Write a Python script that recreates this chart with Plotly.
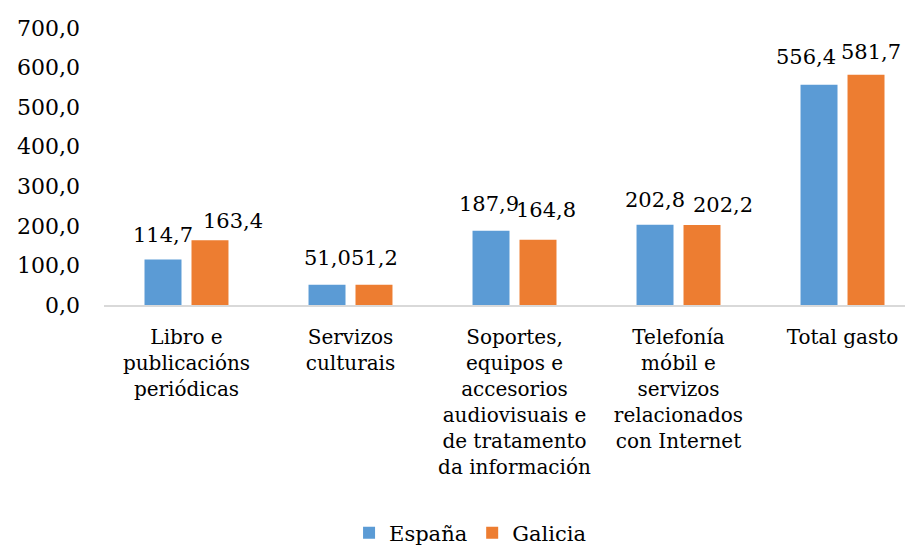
import plotly.graph_objects as go

categories = [
    "Libro e<br>publicacións<br>periódicas",
    "Servizos<br>culturais",
    "Soportes,<br>equipos e<br>accesorios<br>audiovisuais e<br>de tratamento<br>da información",
    "Telefonía<br>móbil e<br>servizos<br>relacionados<br>con Internet",
    "Total gasto",
]
series_names = ["España", "Galicia"]
espana = [114.7, 51.0, 187.9, 202.8, 556.4]
galicia = [163.4, 51.2, 164.8, 202.2, 581.7]
y_ticks = [0, 100, 200, 300, 400, 500, 600, 700]

# label placement tweaks (pixels) mimicking the reference's collision avoidance
label_dx = [[0, 0, -2, 0, -13], [23, 0, 8, 21, 5]]
label_gap = [[17, 19, 19, 17, 20], [11, 19, 22, 12, 15]]

FONT = "DejaVu Serif"
COLORS = ["#5B9BD5", "#ED7D31"]

fig = go.Figure()
for name, vals, color in zip(series_names, [espana, galicia], COLORS):
    fig.add_trace(go.Bar(
        x=categories, y=vals, name=name,
        marker=dict(color=color, line=dict(width=0)),
    ))

def fmt(v):
    return f"{v:.1f}".replace(".", ",")

annotations = []
for s, vals in enumerate([espana, galicia]):
    base = -23.5 if s == 0 else 23.5
    for j, v in enumerate(vals):
        annotations.append(dict(
            x=categories[j], y=v, xref="x", yref="y",
            text=fmt(v), showarrow=False,
            xanchor="center", yanchor="bottom",
            xshift=base + label_dx[s][j], yshift=label_gap[s][j] - 6,
            font=dict(family=FONT, size=21, color="#000000"),
        ))

fig.update_layout(
    width=910, height=547,
    margin=dict(l=104, r=5, t=28, b=242),
    paper_bgcolor="white", plot_bgcolor="white",
    separators=",.",
    barmode="group", bargap=0.427, bargroupgap=0.213,
    font=dict(family=FONT, size=20, color="#000000"),
    showlegend=True,
    legend=dict(orientation="h", x=0.457, xanchor="center",
                yref="container", y=1 - 533 / 547, yanchor="middle",
                font=dict(family=FONT, size=21), traceorder="normal"),
    annotations=annotations,
    xaxis=dict(showline=True, linecolor="#D9D9D9", linewidth=2, showgrid=False,
               range=[-0.503, 4.381], ticks="", ticklabelstandoff=13,
               automargin=False, tickfont=dict(family=FONT, size=20)),
    yaxis=dict(range=[0, 700], tickvals=y_ticks, tickformat=".1f", showgrid=False,
               zeroline=False, showline=False, ticks="", ticklabelstandoff=23,
               automargin=False, tickfont=dict(family=FONT, size=22)),
)

fig.write_html("out.html", config={"displayModeBar": False},
               post_script="document.body.style.margin='0';")
